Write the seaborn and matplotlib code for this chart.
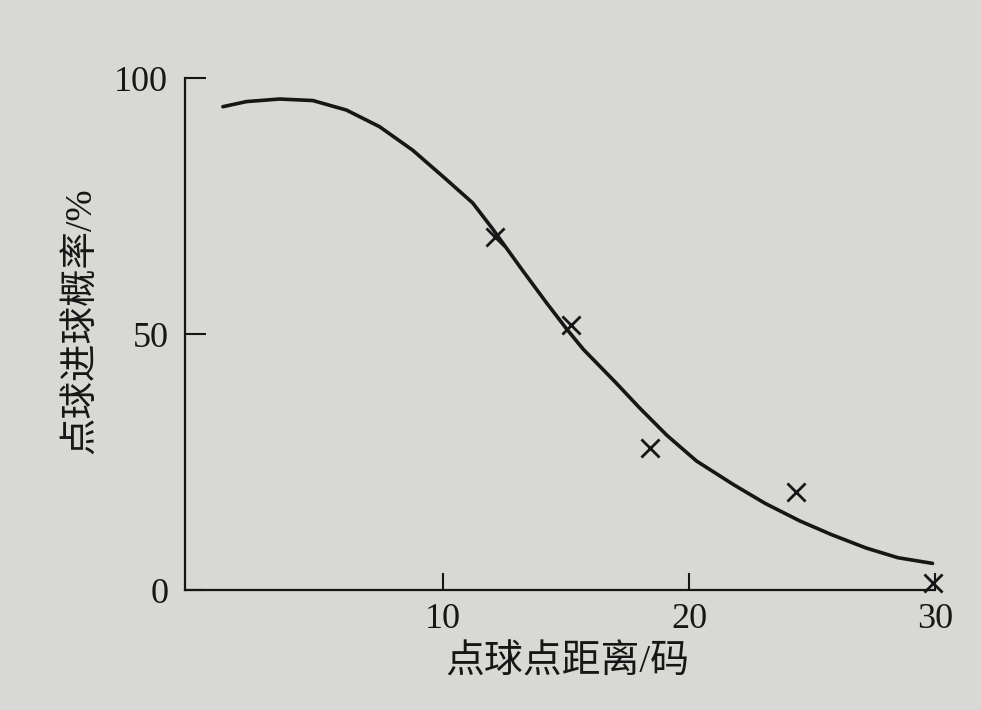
import numpy as np
import pandas as pd
import matplotlib
matplotlib.use('Agg')
import matplotlib.pyplot as plt
import seaborn as sns

# curve (distance in yards, probability in %)
curve_x = [1.04, 2.0, 3.35, 4.7, 6.06, 7.41, 8.76, 10.1, 11.2, 12.0, 13.2, 14.2,
           15.0, 15.7, 17.0, 18.0, 19.1, 20.3, 21.8, 23.1, 24.5, 25.8, 27.2, 28.5, 29.9]
curve_y = [94.4, 95.4, 95.9, 95.6, 93.75, 90.5, 85.9, 80.3, 75.6, 70.6, 62.6, 56.1,
           51.1, 47.0, 40.6, 35.5, 30.2, 25.2, 20.6, 16.9, 13.5, 10.8, 8.2, 6.3, 5.2]

# measured points (crosses)
pts_x = [12.1, 15.2, 18.4, 24.35, 29.9]
pts_y = [68.9, 51.8, 27.7, 19.2, 1.3]

x_ticks = [10, 20, 30]
y_ticks = [0, 50, 100]

sns.set_style('ticks')
plt.rcParams['font.family'] = ['Liberation Serif', 'Noto Sans CJK SC', 'DejaVu Sans']

paper = '#d8d8d4'
ink = '#161616'

fig = plt.figure(figsize=(9.81, 7.10), dpi=100, facecolor=paper)
ax = fig.add_axes([0.1886, 0.169, 0.7645, 0.7211])
ax.set_facecolor(paper)

curve_df = pd.DataFrame({'x': curve_x, 'y': curve_y})
pts_df = pd.DataFrame({'x': pts_x, 'y': pts_y})

sns.lineplot(data=curve_df, x='x', y='y', sort=False, estimator=None,
             color=ink, linewidth=2.6, ax=ax)
sns.scatterplot(data=pts_df, x='x', y='y', marker='x', s=170,
                color=ink, linewidth=2.0, ax=ax, clip_on=False, zorder=5)

ax.set_xlim(-0.5, 30)
ax.set_ylim(0, 100)
ax.set_xticks(x_ticks)
ax.set_yticks(y_ticks)
ax.tick_params(axis='y', direction='in', length=15, width=1.5, pad=12,
               labelsize=26, colors=ink)
ax.tick_params(axis='x', direction='in', length=12, width=1.5, pad=9,
               labelsize=26, colors=ink)

for side in ['top', 'right']:
    ax.spines[side].set_visible(False)
for side in ['left', 'bottom']:
    ax.spines[side].set_linewidth(1.6)
    ax.spines[side].set_color(ink)

ax.set_xlabel('点球点距离/码', fontsize=28, color=ink)
ax.set_ylabel('点球进球概率/%', fontsize=27, color=ink)
ax.xaxis.set_label_coords(0.51, -0.107)
ax.yaxis.set_label_coords(-0.115, 0.527)

fig.savefig('out.png', dpi=100, facecolor=paper)
